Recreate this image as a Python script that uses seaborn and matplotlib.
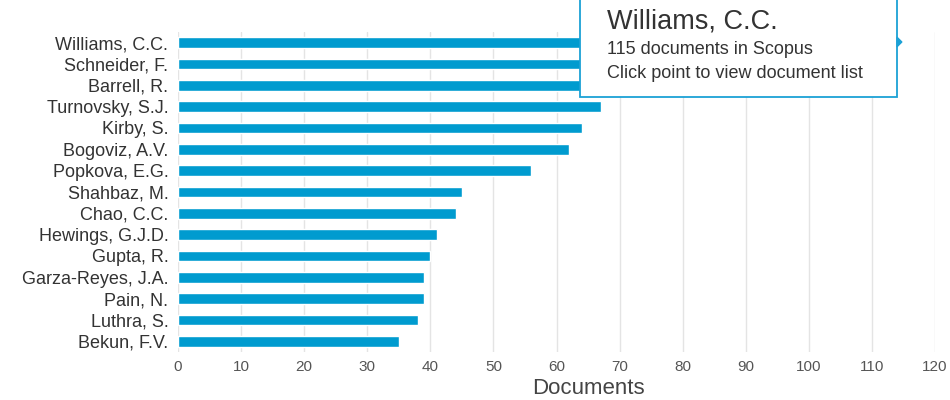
import matplotlib
matplotlib.use("Agg")
import matplotlib.pyplot as plt
import seaborn as sns
import pandas as pd
from matplotlib.patches import Rectangle, Polygon

authors = ["Williams, C.C.", "Schneider, F.", "Barrell, R.", "Turnovsky, S.J.",
           "Kirby, S.", "Bogoviz, A.V.", "Popkova, E.G.", "Shahbaz, M.",
           "Chao, C.C.", "Hewings, G.J.D.", "Gupta, R.", "Garza-Reyes, J.A.",
           "Pain, N.", "Luthra, S.", "Bekun, F.V."]
documents = [115, 85, 72, 67, 64, 62, 56, 45, 44, 41, 40, 39, 39, 38, 35]
x_ticks = [0, 10, 20, 30, 40, 50, 60, 70, 80, 90, 100, 110, 120]

tooltip_title = "Williams, C.C."
tooltip_line1 = "115 documents in Scopus"
tooltip_line2 = "Click point to view document list"

sns.set_theme(style="white")
plt.rcParams["font.family"] = ["Liberation Sans", "DejaVu Sans"]

df = pd.DataFrame({"Author": authors, "Documents": documents})

W, H = 950, 400
fig = plt.figure(figsize=(W / 100, H / 100), dpi=100)
ax = fig.add_axes([178 / W, 1 - 352 / H, (935 - 178) / W, (352 - 32) / H])

bar_color = "#009bcf"
sns.barplot(data=df, x="Documents", y="Author", orient="h", color=bar_color,
            saturation=1, width=0.5, ax=ax, zorder=3)

ax.set_xlim(0, 120)
ax.set_xticks(x_ticks)
ax.set_xticklabels([str(t) for t in x_ticks], fontsize=11, color="#555555")
ax.tick_params(axis="y", labelsize=13, labelcolor="#333333", length=0, pad=7)
ax.tick_params(axis="x", length=0, pad=6)
ax.set_ylabel("")
ax.set_xlabel("")
fig.text(588 / W, 1 - 389 / H, "Documents", fontsize=16, color="#444444",
         ha="center", va="center")
ax.grid(axis="x", color="#e4e4e4", linewidth=1, zorder=0)
ax.grid(axis="y", visible=False)
for s in ax.spines.values():
    s.set_visible(False)

# tooltip overlay
x0, x1, y_bot = 580, 897, 97
border = "#1ba1d6"
rect = Rectangle((x0 / W, 1 - y_bot / H), (x1 - x0) / W, (y_bot + 10) / H,
                 transform=fig.transFigure, facecolor="white", edgecolor=border,
                 linewidth=1.3, zorder=10)
fig.patches.append(rect)
cover = Rectangle((x1 / W, 1 - 50 / H), 9 / W, 15 / H, transform=fig.transFigure,
                  facecolor="white", edgecolor="none", zorder=9)
fig.patches.append(cover)
ptr = Polygon([(x1 / W, 1 - 37 / H), ((x1 + 5) / W, 1 - 42 / H), (x1 / W, 1 - 47 / H)],
              closed=True, transform=fig.transFigure, facecolor=border,
              edgecolor=border, linewidth=0.8, zorder=11)
fig.patches.append(ptr)
fig.text(607 / W, 1 - 21 / H, tooltip_title, fontsize=19.5, color="#333333",
         va="center", ha="left", zorder=12)
fig.text(607 / W, 1 - 50 / H, tooltip_line1, fontsize=13, color="#333333",
         va="center", ha="left", zorder=12)
fig.text(607 / W, 1 - 73 / H, tooltip_line2, fontsize=13, color="#333333",
         va="center", ha="left", zorder=12)

fig.savefig("out.png", dpi=100)
